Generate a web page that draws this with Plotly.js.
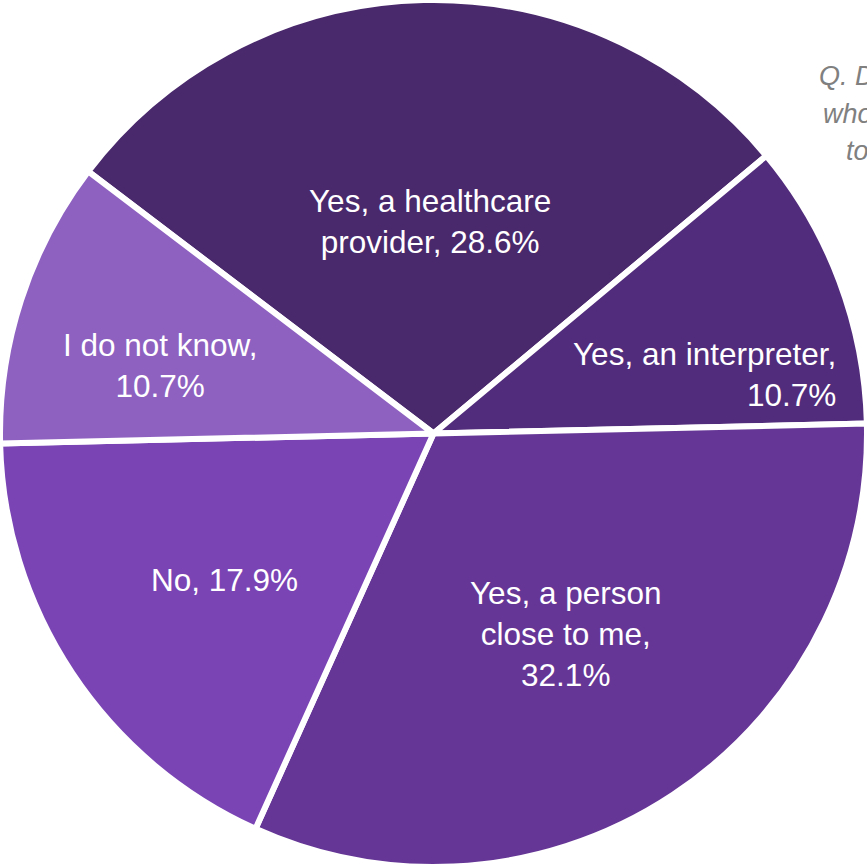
<!DOCTYPE html>
<html>
<head>
<meta charset="utf-8">
<script src="https://cdn.plot.ly/plotly-3.0.1.min.js"></script>
<style>html,body{margin:0;padding:0;background:#fff;}#chart{width:867px;height:867px;}</style>
</head>
<body>
<div id="chart"></div>
<script>
// ---- data ----
const categories = ["Yes, a healthcare provider", "Yes, an interpreter", "Yes, a person close to me", "No", "I do not know"];
const values = [28.6, 10.7, 32.1, 17.9, 10.7];
const labelText = ["Yes, a healthcare<br>provider,", "Yes, an interpreter,<br>", "Yes, a person<br>close to me,<br>", "No,", "I do not know,<br>"];
const questionLines = ["Q. Do you have someone", "who helps you", "to communicate?"];

// ---- style / layout ----
const colors = ["#4A286C", "#522C7C", "#653696", "#7A44B5", "#8E61C1"];
const labelPos = [
  {x: 0.496, y: 0.745, xanchor: "center", align: "center"},
  {x: 0.9666, y: 0.5675, xanchor: "right", align: "right"},
  {x: 0.6517, y: 0.2687, xanchor: "center", align: "center"},
  {x: 0.2584, y: 0.331, xanchor: "center", align: "center"},
  {x: 0.1845, y: 0.5779, xanchor: "center", align: "center"}
];
const questionPos = [{x: 817, y: 76}, {x: 821, y: 114}, {x: 844, y: 151}];

const trace = {
  type: "pie",
  labels: categories,
  values: values,
  sort: false,
  direction: "clockwise",
  rotation: -52.8,
  textinfo: "none",
  hoverinfo: "label+percent",
  marker: {colors: colors, line: {color: "#ffffff", width: 6}},
  domain: {x: [0, 1], y: [0, 1]}
};

const annotations = [];
categories.forEach((c, i) => {
  const sep = labelText[i].endsWith("<br>") ? "" : " ";
  annotations.push({
    xref: "paper", yref: "paper",
    x: labelPos[i].x, y: labelPos[i].y,
    xanchor: labelPos[i].xanchor, yanchor: "middle",
    align: labelPos[i].align,
    showarrow: false,
    text: labelText[i] + sep + values[i].toFixed(1) + "%",
    font: {family: "Liberation Sans, Arial, sans-serif", size: 31.5, color: "#ffffff"}
  });
});
questionLines.forEach((t, i) => {
  annotations.push({
    xref: "paper", yref: "paper",
    x: questionPos[i].x / 867, y: 1 - questionPos[i].y / 867,
    xanchor: "left", yanchor: "middle", align: "left",
    showarrow: false,
    text: "<i>" + t + "</i>",
    font: {family: "Liberation Sans, Arial, sans-serif", size: 27, color: "#808080"}
  });
});

const layout = {
  width: 867, height: 867,
  margin: {l: 0, r: 0, t: 0, b: 0, pad: 0},
  showlegend: false,
  paper_bgcolor: "#ffffff",
  annotations: annotations
};

Plotly.newPlot("chart", [trace], layout, {displayModeBar: false, staticPlot: true});
</script>
</body>
</html>
